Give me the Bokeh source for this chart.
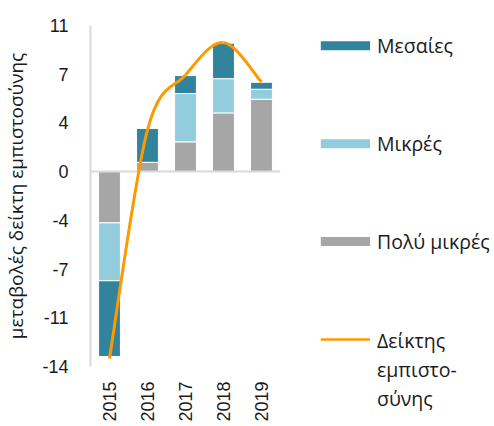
import math
from bokeh.plotting import figure
from bokeh.models import Range1d, FixedTicker, ColumnDataSource
from bokeh.core.properties import value
from bokeh.embed import file_html
from bokeh.resources import INLINE

# ---- data ----
years = ["2015", "2016", "2017", "2018", "2019"]
very_small = [-3.68, 0.67, 2.14, 4.22, 5.20]   # Πολύ μικρές
small = [-4.16, 0.0, 3.47, 2.46, 0.72]         # Μικρές
medium = [-5.44, 2.43, 1.29, 2.55, 0.50]       # Μεσαίες
confidence = [-13.42, 3.0, 6.95, 9.28, 6.44]   # Δείκτης εμπιστοσύνης
ytick_vals = [-14, -10.5, -7, -3.5, 0, 3.5, 7, 10.5]
ytick_labels = ["-14", "-11", "-7", "-4", "0", "4", "7", "11"]
series_names = ["Μεσαίες", "Μικρές", "Πολύ μικρές", "Δείκτης\nεμπιστο-\nσύνης"]
y_title = "μεταβολές δείκτη εμπιστοσύνης"

DARK = "#31849B"
LIGHT = "#93CDDD"
GRAY = "#A6A6A6"
ORANGE = "#FF9900"
AXIS_GRAY = "#D9D9D9"
TXT = "#1a1a1a"

W, H = 492, 424
F_LEFT, F_RIGHT, F_TOP, F_BOTTOM = 89, 280, 25, 367

# category positions on a numeric axis (centre of each category slot)
xs = [i + 0.5 for i in range(len(years))]
src = ColumnDataSource(dict(x=xs, vs=very_small, sm=small, md=medium))

p = figure(x_range=Range1d(0, len(years)), y_range=Range1d(-14, 10.5),
           width=W, height=H, output_backend="svg", toolbar_location=None,
           min_border_left=F_LEFT, min_border_right=W - F_RIGHT,
           min_border_top=F_TOP, min_border_bottom=H - F_BOTTOM)
p.outline_line_color = None
p.grid.visible = False

p.vbar_stack(["vs", "sm", "md"], x="x", width=0.575, source=src,
             fill_color=[GRAY, LIGHT, DARK], line_color="white", line_width=1)

# zero line (horizontal axis crossing at 0)
p.hspan(y=[0], line_color=AXIS_GRAY, line_width=2)

# smoothed line through the index values (Catmull-Rom style Bezier)
pts = list(zip(xs, confidence))
x0, y0, x1, y1, cx0, cy0, cx1, cy1 = [], [], [], [], [], [], [], []
n = len(pts)
for i in range(n - 1):
    pa = pts[i - 1] if i > 0 else pts[i]
    pb = pts[i]
    pc = pts[i + 1]
    pd = pts[i + 2] if i + 2 < n else pts[i + 1]
    x0.append(pb[0]); y0.append(pb[1])
    x1.append(pc[0]); y1.append(pc[1])
    cx0.append(pb[0] + (pc[0] - pa[0]) / 6); cy0.append(pb[1] + (pc[1] - pa[1]) / 6)
    cx1.append(pc[0] - (pd[0] - pb[0]) / 6); cy1.append(pc[1] - (pd[1] - pb[1]) / 6)
p.bezier(x0=x0, y0=y0, x1=x1, y1=y1, cx0=cx0, cy0=cy0, cx1=cx1, cy1=cy1,
         line_color=ORANGE, line_width=3)

# y axis
ya = p.yaxis[0]
ya.ticker = FixedTicker(ticks=ytick_vals)
ya.major_label_overrides = {float(v): l for v, l in zip(ytick_vals, ytick_labels)}
ya.axis_line_color = AXIS_GRAY
ya.axis_line_width = 2
ya.major_tick_line_color = None
ya.minor_tick_line_color = None
ya.major_tick_out = 0
ya.major_label_standoff = 22
ya.major_label_text_font = "Liberation Sans"
ya.major_label_text_font_size = "18px"
ya.major_label_text_color = TXT
ya.axis_label = y_title
ya.axis_label_text_font = "Open Sans"
ya.axis_label_text_font_size = "19px"
ya.axis_label_text_font_style = "normal"
ya.axis_label_text_color = TXT
ya.axis_label_standoff = 10

# x axis
xa = p.xaxis[0]
xa.ticker = FixedTicker(ticks=xs)
xa.major_label_overrides = {float(v): y for v, y in zip(xs, years)}
xa.axis_line_color = None
xa.major_tick_line_color = None
xa.minor_tick_line_color = None
xa.major_tick_out = 0
xa.major_label_orientation = math.pi / 2
xa.major_label_standoff = 15
xa.major_label_text_font = "Liberation Sans"
xa.major_label_text_font_size = "18px"
xa.major_label_text_color = TXT

# ---- legend (right of the plot area, pixel-like helper ranges, overlay level) ----
p.extra_x_ranges["leg"] = Range1d(F_LEFT, F_RIGHT)
p.extra_y_ranges["leg"] = Range1d(F_BOTTOM, F_TOP)
leg = dict(x_range_name="leg", y_range_name="leg", level="overlay")

sw_left, sw_right, txt_x = 320.5, 370, 377
row_y0, row_step, line_gap = 45.3, 98.2, 29
box_colors = [DARK, LIGHT, GRAY]
box_y = [row_y0 + i * row_step for i in range(len(box_colors))]
p.quad(left=[sw_left] * 3, right=[sw_right] * 3,
       top=[y - 4.5 for y in box_y], bottom=[y + 4.5 for y in box_y],
       fill_color=box_colors, line_color=None, **leg)
yl = row_y0 + 3 * row_step
p.line(x=[sw_left, sw_right], y=[yl, yl], line_color=ORANGE, line_width=2.5, **leg)

lt, ly = [], []
for i, name in enumerate(series_names):
    for j, part in enumerate(name.split("\n")):
        lt.append(part)
        ly.append(row_y0 + i * row_step + (1 if i == 3 else 0) + j * line_gap)
p.text(x=[txt_x] * len(lt), y=ly, text=lt, text_baseline="middle",
       text_font=value("Open Sans"), text_font_size="19.5px", text_color=TXT, **leg)

open("out.html", "w").write(file_html(p, INLINE))
